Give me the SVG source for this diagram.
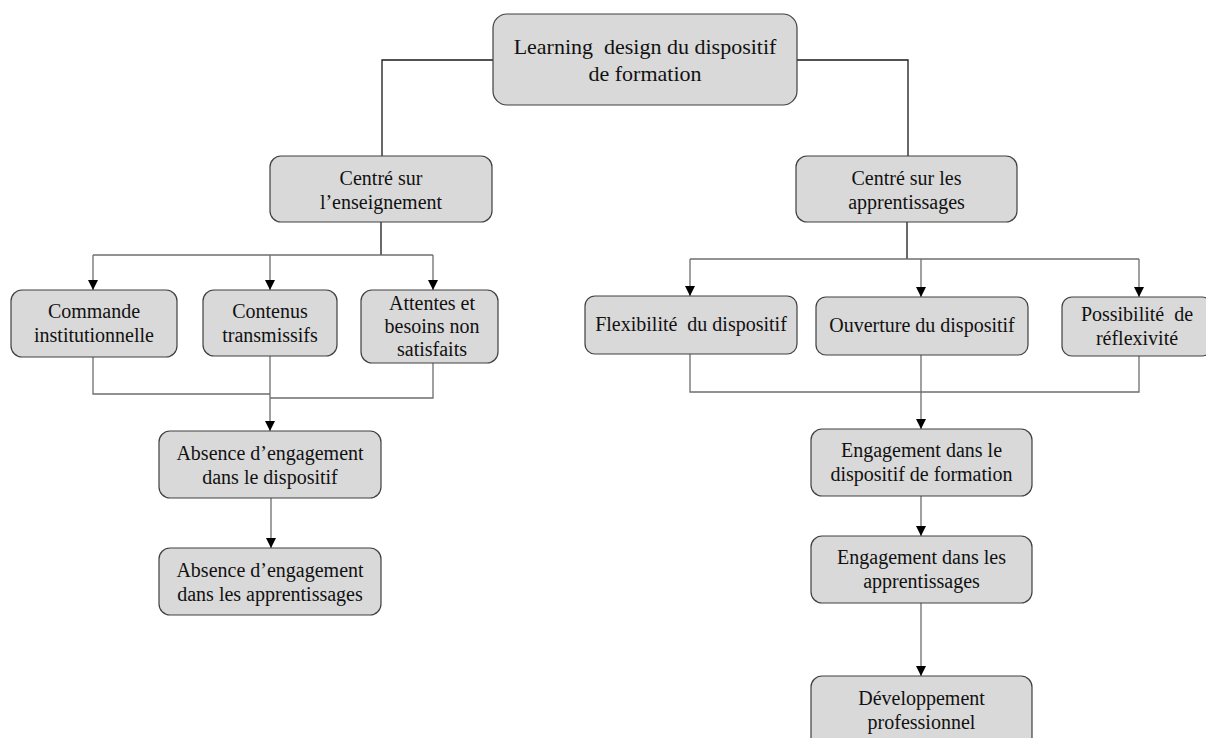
<svg xmlns="http://www.w3.org/2000/svg" width="1206" height="738" viewBox="0 0 1206 738">
<style>
.box{fill:#d9d9d9;stroke:#404040;stroke-width:1.2}
.t{font-family:"Liberation Serif","Times New Roman",serif;font-size:20px;fill:#111;text-anchor:middle}
.tt{font-size:22px}
.p{white-space:pre}
.c{fill:none;stroke:#6e6e6e;stroke-width:1.3}
.k{fill:none;stroke:#1a1a1a;stroke-width:1.3}
.a{marker-end:url(#arr)}
</style>
<defs>
<marker id="arr" markerUnits="userSpaceOnUse" markerWidth="10" markerHeight="10" refX="10" refY="5" orient="auto" viewBox="0 0 10 10">
<path d="M0,0 L10,5 L0,10 z" fill="#000"/>
</marker>
</defs>
<rect width="1206" height="738" fill="#fff"/>
<g id="connectors">
<path class="k" d="M493,60 H382 V156"/>
<path class="k" d="M797,60 H908 V156"/>
<path class="k" d="M381,222 V255"/>
<path class="c" d="M93,255 H433"/>
<path class="c a" d="M93,255 V290"/>
<path class="c a" d="M270,255 V290"/>
<path class="c a" d="M433,255 V290"/>
<path class="c" d="M93,357 V394 H270"/>
<path class="c" d="M433,363 V398 H270"/>
<path class="c a" d="M270,356 V431"/>
<path class="c a" d="M271,498 V548"/>
<path class="k" d="M907,222 V259"/>
<path class="c" d="M690,259 H1139"/>
<path class="c a" d="M690,259 V296"/>
<path class="c a" d="M921,259 V297"/>
<path class="c a" d="M1139,259 V297"/>
<path class="c" d="M690,354 V392 H1139 V356"/>
<path class="c a" d="M921,355 V429"/>
<path class="c a" d="M921,496 V536"/>
<path class="c a" d="M921,603 V676"/>
</g>
<g id="n-top"><rect class="box" x="493" y="14" width="304" height="91" rx="14"/>
<text class="t tt p" xml:space="preserve" x="645" y="54">Learning  design du dispositif</text>
<text class="t tt" x="645" y="81">de formation</text></g>
<g id="n-ens"><rect class="box" x="270" y="156" width="222" height="66" rx="11"/>
<text class="t" x="381" y="185">Centré sur</text>
<text class="t" x="381" y="209">l’enseignement</text></g>
<g id="n-app"><rect class="box" x="796" y="156" width="221" height="66" rx="11"/>
<text class="t" x="906.5" y="185">Centré sur les</text>
<text class="t" x="906.5" y="209">apprentissages</text></g>
<g id="n-cmd"><rect class="box" x="11" y="290" width="166" height="67" rx="11"/>
<text class="t" x="94" y="318">Commande</text>
<text class="t" x="94" y="342">institutionnelle</text></g>
<g id="n-cont"><rect class="box" x="203" y="290" width="134" height="66" rx="11"/>
<text class="t" x="270" y="318">Contenus</text>
<text class="t" x="270" y="342">transmissifs</text></g>
<g id="n-att"><rect class="box" x="361" y="290" width="137" height="73" rx="11"/>
<text class="t" x="432" y="310">Attentes et</text>
<text class="t" x="432" y="333">besoins non</text>
<text class="t" x="432" y="356">satisfaits</text></g>
<g id="n-flex"><rect class="box" x="585" y="296" width="212" height="58" rx="10"/>
<text class="t p" xml:space="preserve" x="691" y="331">Flexibilité  du dispositif</text></g>
<g id="n-ouv"><rect class="box" x="816" y="297" width="212" height="58" rx="10"/>
<text class="t" x="922" y="332">Ouverture du dispositif</text></g>
<g id="n-pos"><rect class="box" x="1062" y="297" width="150" height="59" rx="10"/>
<text class="t p" xml:space="preserve" x="1137" y="321">Possibilité  de</text>
<text class="t" x="1137" y="345">réflexivité</text></g>
<g id="n-abs1"><rect class="box" x="159" y="431" width="222" height="67" rx="11"/>
<text class="t" x="270" y="460">Absence d’engagement</text>
<text class="t" x="270" y="484">dans le dispositif</text></g>
<g id="n-abs2"><rect class="box" x="159" y="548" width="222" height="67" rx="11"/>
<text class="t" x="270" y="577">Absence d’engagement</text>
<text class="t" x="270" y="601">dans les apprentissages</text></g>
<g id="n-eng1"><rect class="box" x="811" y="429" width="221" height="67" rx="11"/>
<text class="t" x="921.5" y="457">Engagement dans le</text>
<text class="t" x="921.5" y="481">dispositif de formation</text></g>
<g id="n-eng2"><rect class="box" x="811" y="536" width="221" height="67" rx="11"/>
<text class="t" x="921.5" y="564">Engagement dans les</text>
<text class="t" x="921.5" y="588">apprentissages</text></g>
<g id="n-dev"><rect class="box" x="811" y="676" width="221" height="72" rx="11"/>
<text class="t" x="921.5" y="705">Développement</text>
<text class="t" x="921.5" y="729">professionnel</text></g>
</svg>
